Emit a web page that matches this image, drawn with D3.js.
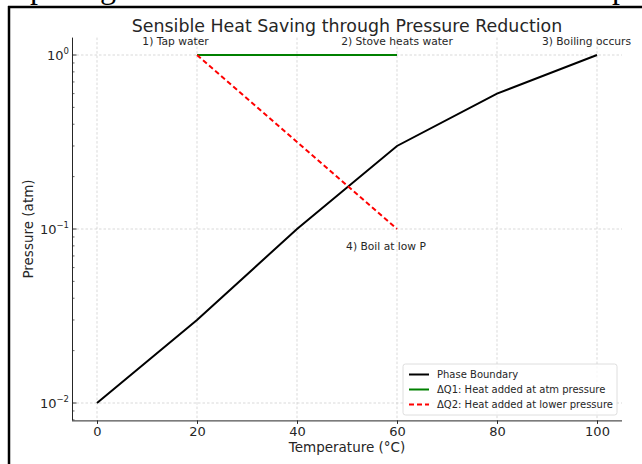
<!DOCTYPE html>
<html>
<head>
<meta charset="utf-8">
<script src="https://cdn.jsdelivr.net/npm/d3@7"></script>
<style>
  body { margin: 0; background: #fff; }
  svg { display: block; font-family: "DejaVu Sans", sans-serif; }
</style>
</head>
<body>
<svg id="chart" width="642" height="464"></svg>
<script>
// data
const temps = [0, 20, 40, 60, 80, 100];
const phasePressure = [0.01, 0.03, 0.1, 0.3, 0.6, 1.0];
const dq1Temps = [20, 60];
const dq1Pressure = [1, 1];
const dq2Temps = [20, 60];
const dq2Pressure = [1, 0.1];
const xTicks = [0, 20, 40, 60, 80, 100];
const yTicks = [0.01, 0.1, 1];
const yTickExp = ["\u22122", "\u22121", "0"];
const notes = ["1) Tap water", "2) Stove heats water", "3) Boiling occurs", "4) Boil at low P"];
const noteT = [15.7, 60, 97.9, 57.8];
const noteP = [1.14, 1.14, 1.14, 0.0757];
const legendLabels = ["Phase Boundary", "\u0394Q1: Heat added at atm pressure", "\u0394Q2: Heat added at lower pressure"];

const svg = d3.select("#chart");
const ink = "#262626";

// page frame of the screenshot
svg.append("line").attr("x1", 8).attr("x2", 642).attr("y1", 7).attr("y2", 7)
  .attr("stroke", "#000").attr("stroke-width", 2.5);
svg.append("line").attr("x1", 9).attr("x2", 9).attr("y1", 6).attr("y2", 464)
  .attr("stroke", "#000").attr("stroke-width", 2.5);
// bits of the text line above, cut off
svg.append("clipPath").attr("id", "topclip").append("rect")
  .attr("x", 0).attr("y", 0).attr("width", 642).attr("height", 5.5);
const cut = svg.append("g").attr("clip-path", "url(#topclip)")
  .style("font-family", "'Liberation Serif', serif").style("font-size", "32px");
[["p", 30], ["g", 100], ["p", 612]].forEach(([c, px]) => {
  cut.append("text").attr("x", px).attr("y", -2).text(c);
});

const x = d3.scaleLinear().domain([-5, 105]).range([72, 622]);
const y = d3.scaleLog().domain([0.01 / Math.pow(10, 0.1), Math.pow(10, 0.1)]).range([420.4, 37.6]);
const [x0, x1] = x.range();
const [yb, yt] = y.range();

// grid
const grid = svg.append("g").attr("stroke", "#cfcfcf").attr("stroke-width", 0.8)
  .attr("stroke-dasharray", "2.5,2");
grid.selectAll(".gx").data(xTicks).enter().append("line")
  .attr("x1", d => x(d)).attr("x2", d => x(d)).attr("y1", yt).attr("y2", yb);
grid.selectAll(".gy").data(yTicks).enter().append("line")
  .attr("y1", d => y(d)).attr("y2", d => y(d)).attr("x1", x0).attr("x2", x1);

// x axis
const xAxis = svg.append("g").attr("transform", `translate(0,${yb})`)
  .call(d3.axisBottom(x).tickValues(xTicks).tickSize(3.5).tickPadding(3).tickFormat(d3.format("d")));
xAxis.select(".domain").attr("d", `M${x0},0.5H${x1}`).attr("stroke", ink).attr("stroke-width", 1);
xAxis.selectAll(".tick line").attr("stroke", ink);
xAxis.selectAll("text").attr("fill", ink).style("font-size", "13px")
  .style("font-family", "'DejaVu Sans', sans-serif");

// y axis (log, ticks inward)
const yAxis = svg.append("g").attr("transform", `translate(${x0},0)`);
yAxis.append("line").attr("x1", 0.5).attr("x2", 0.5).attr("y1", yt).attr("y2", yb)
  .attr("stroke", ink).attr("stroke-width", 1);
const minors = [];
[0.001, 0.01, 0.1, 1].forEach(dec => {
  for (let k = 2; k <= 9; k++) {
    const v = dec * k;
    if (v > y.domain()[0] && v < y.domain()[1]) minors.push(v);
  }
});
yAxis.selectAll(".minor").data(minors).enter().append("line")
  .attr("x1", 0.5).attr("x2", 2.5).attr("y1", d => y(d)).attr("y2", d => y(d))
  .attr("stroke", ink).attr("stroke-width", 0.7);
yAxis.selectAll(".major").data(yTicks).enter().append("line")
  .attr("x1", 0.5).attr("x2", 4.5).attr("y1", d => y(d)).attr("y2", d => y(d))
  .attr("stroke", ink).attr("stroke-width", 0.9);
const yl = yAxis.selectAll(".ylab").data(yTicks).enter().append("text")
  .attr("x", -3).attr("y", d => y(d) + 5).attr("text-anchor", "end")
  .attr("fill", ink).style("font-size", "13px");
yl.append("tspan").text("10");
yl.append("tspan").attr("dy", -6).style("font-size", "8.5px").text((d, i) => yTickExp[i]);

// axis labels and title
svg.append("text").attr("x", (x0 + x1) / 2).attr("y", 452).attr("text-anchor", "middle")
  .attr("fill", ink).style("font-size", "13.5px").text("Temperature (\u00b0C)");
svg.append("text").attr("transform", `translate(33,${(yt + yb) / 2}) rotate(-90)`)
  .attr("text-anchor", "middle").attr("fill", ink).style("font-size", "13.5px").text("Pressure (atm)");
svg.append("text").attr("x", (x0 + x1) / 2).attr("y", 32).attr("text-anchor", "middle")
  .attr("fill", ink).style("font-size", "17.4px").text("Sensible Heat Saving through Pressure Reduction");

// lines
const line = d3.line().x(d => x(d[0])).y(d => y(d[1]));
svg.append("path").datum(d3.zip(temps, phasePressure)).attr("d", line)
  .attr("fill", "none").attr("stroke", "#000").attr("stroke-width", 2);
svg.append("path").datum(d3.zip(dq1Temps, dq1Pressure)).attr("d", line)
  .attr("fill", "none").attr("stroke", "#008000").attr("stroke-width", 2);
svg.append("path").datum(d3.zip(dq2Temps, dq2Pressure)).attr("d", line)
  .attr("fill", "none").attr("stroke", "#ff0000").attr("stroke-width", 2)
  .attr("stroke-dasharray", "5,3");

// annotations
svg.selectAll(".note").data(notes).enter().append("text")
  .attr("x", (d, i) => x(noteT[i])).attr("y", (d, i) => y(noteP[i]))
  .attr("text-anchor", "middle").attr("fill", ink).style("font-size", "10.7px").text(d => d);

// legend
const lg = svg.append("g").attr("transform", "translate(403,364)");
lg.append("rect").attr("width", 214).attr("height", 51).attr("rx", 2.5)
  .attr("fill", "#fff").attr("fill-opacity", 0.8).attr("stroke", "#d6d6d6").attr("stroke-width", 0.8);
const lstyles = [["#000", null], ["#008000", null], ["#ff0000", "5,3"]];
legendLabels.forEach((lab, i) => {
  const cy = 10.5 + i * 15;
  lg.append("line").attr("x1", 6).attr("x2", 26).attr("y1", cy).attr("y2", cy)
    .attr("stroke", lstyles[i][0]).attr("stroke-width", 2)
    .attr("stroke-dasharray", lstyles[i][1]);
  lg.append("text").attr("x", 34).attr("y", cy + 3.6).attr("fill", ink)
    .style("font-size", "10px").text(lab);
});
</script>
</body>
</html>
